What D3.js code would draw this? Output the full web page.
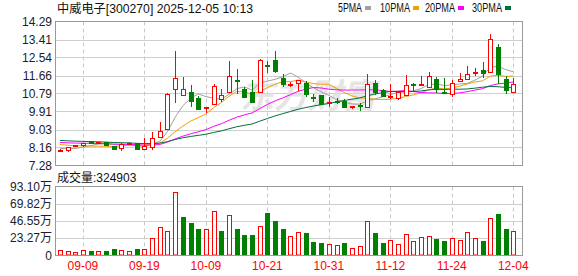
<!DOCTYPE html>
<html>

<head>
  <meta charset="UTF-8" />
  <script src="https://d3js.org/d3.v7.min.js"></script>
  <style>
    body { margin: 0; background: #fff; }
    text { font-family: "Liberation Sans", Arial, "Noto Sans CJK SC", sans-serif; }
  </style>
</head>

<body>
  <script>

    // trading days shown
    var dates = [
      "09-04", "09-05", "09-08", "09-09", "09-10", "09-11", "09-12", "09-15", "09-16", "09-17",
      "09-18", "09-19", "09-22", "09-23", "09-24", "09-25", "09-26", "09-29", "09-30", "10-09",
      "10-10", "10-13", "10-14", "10-15", "10-16", "10-17", "10-20", "10-21", "10-22", "10-23",
      "10-24", "10-27", "10-28", "10-29", "10-30", "10-31", "11-03", "11-04", "11-05", "11-06",
      "11-07", "11-10", "11-11", "11-12", "11-13", "11-14", "11-17", "11-18", "11-19", "11-20",
      "11-21", "11-24", "11-25", "11-26", "11-27", "11-28", "12-01", "12-02", "12-03", "12-04"
    ];

    var opens = [8.00, 8.05, 8.21, 8.30, 8.45, 8.38, 8.40, 8.23, 8.12, 8.35,
      8.36, 8.09, 8.17, 8.66, 9.05, 11.01, 10.72, 10.88, 10.59, 10.10,
      10.28, 10.53, 10.88, 11.45, 11.01, 10.88, 10.85, 12.17, 12.42, 11.55,
      11.24, 11.30, 11.31, 10.62, 10.69, 10.35, 10.43, 10.44, 10.13, 10.22,
      10.15, 11.31, 10.96, 10.64, 10.56, 10.72, 11.26, 11.19, 11.10, 11.50,
      10.85, 10.77, 11.38, 11.47, 11.76, 11.91, 11.83, 13.06, 11.50, 10.85];

    var highs = [8.06, 8.20, 8.29, 8.39, 8.47, 8.44, 8.42, 8.25, 8.36, 8.40,
      8.38, 8.63, 8.93, 9.42, 10.80, 12.83, 11.61, 11.21, 10.68, 10.14,
      11.26, 11.01, 12.39, 11.99, 11.10, 11.42, 12.45, 12.39, 12.87, 11.75,
      11.35, 11.44, 11.38, 10.75, 10.72, 10.61, 10.55, 10.50, 10.18, 10.30,
      11.75, 11.46, 11.00, 11.23, 10.88, 11.70, 11.28, 11.66, 11.85, 11.61,
      11.55, 11.46, 11.79, 12.10, 12.03, 12.33, 13.69, 13.20, 11.66, 11.55];

    var lows = [7.96, 7.93, 8.18, 8.18, 8.35, 8.36, 8.24, 8.05, 7.98, 8.32,
      8.06, 8.06, 8.04, 8.60, 9.00, 10.31, 10.70, 10.15, 9.99, 9.84,
      10.25, 10.36, 10.85, 10.77, 10.55, 10.33, 10.80, 11.79, 11.79, 11.10,
      11.10, 10.93, 10.61, 10.36, 10.26, 10.12, 10.29, 10.12, 10.04, 9.92,
      10.10, 10.69, 10.60, 10.53, 10.48, 10.70, 10.93, 11.15, 11.05, 10.80,
      10.75, 10.61, 11.36, 11.42, 11.66, 11.55, 11.78, 11.26, 10.77, 10.83];

    var closes = [8.02, 8.20, 8.26, 8.39, 8.37, 8.40, 8.26, 8.09, 8.33, 8.37,
      8.08, 8.22, 8.62, 8.98, 10.77, 11.55, 11.01, 10.44, 10.05, 10.13,
      11.16, 10.72, 11.65, 11.40, 10.61, 10.36, 12.42, 12.13, 11.86, 11.23,
      11.27, 11.42, 10.77, 10.59, 10.29, 10.38, 10.40, 10.15, 10.17, 10.20,
      11.23, 10.85, 10.66, 10.68, 10.85, 11.18, 11.20, 11.23, 11.63, 11.01,
      10.81, 11.31, 11.50, 11.75, 11.81, 11.78, 13.45, 11.75, 10.96, 11.26];

    // volume, in 万 (10k)
    var volumes = [7.7, 6.3, 5.0, 7.7, 5.4, 6.7, 5.4, 8.1, 7.7, 5.4,
      8.1, 8.1, 23.9, 38.7, 33.3, 85.9, 52.6, 44.5, 35.1, 35.1,
      60.3, 33.7, 55.3, 35.1, 27.0, 28.3, 39.9, 56.7, 45.9, 35.1,
      26.6, 32.0, 31.0, 18.0, 16.2, 15.7, 14.4, 17.5, 10.3, 13.0,
      46.8, 29.7, 17.5, 21.2, 15.7, 29.2, 18.9, 25.2, 26.6, 22.9,
      20.2, 23.9, 21.2, 32.0, 23.9, 20.2, 50.9, 55.8, 35.1, 32.4903];

    // closes before 09-04 (not drawn), estimated from where the MA lines start
    var priorCloses = [8.80, 8.75, 8.70, 8.72, 8.68, 8.66, 8.70, 8.65, 8.62, 8.72,
      8.55, 8.50, 8.52, 8.48, 8.50, 8.45, 8.52, 8.50, 8.48, 8.50,
      8.55, 8.50, 8.45, 8.48, 8.42, 8.35, 8.18, 8.06, 8.00];

    var priceTicks = [7.28, 8.16, 9.03, 9.91, 10.79, 11.66, 12.54, 13.41, 14.29];
    var volTicks = [0, 23.27, 46.55, 69.82, 93.10];
    var dateTicks = ["09-09", "09-19", "10-09", "10-21", "10-31", "11-12", "11-24", "12-04"];

    var maPeriods = [5, 10, 20, 30];
    var maNames = ["5PMA", "10PMA", "20PMA", "30PMA"];
    var maColors = ["#a0a0a0", "#f0a000", "#ff00ff", "#00703a"];

    var title = "中威电子[300270] 2025-12-05 10:13";

    var UP = "#ff0000", DOWN = "#008000";

    var width = 578, height = 276;
    var left = 55.5, right = 522.5;
    var pTop = 21.5, pBottom = 165.5;
    var vTop = 186.5, vBottom = 255.5;

    var svg = d3.select("body").append("svg")
      .attr("width", width)
      .attr("height", height);

    // scales
    var x = d3.scalePoint()
      .domain(dates)
      .range([59.9, 513.3]);

    var y = d3.scaleLinear()
      .domain([7.28, 14.29])
      .range([pBottom, pTop]);

    var yv = d3.scaleLinear()
      .domain([0, 93.10])
      .range([vBottom, vTop]);

    // ****************** grid ***************************

    var grid = svg.append("g");

    grid.selectAll("line.hp")
      .data(priceTicks.slice(1, -1))
      .enter().append("line")
      .attr("x1", left).attr("x2", right)
      .attr("y1", function (d) { return Math.round(y(d)) + 0.5; })
      .attr("y2", function (d) { return Math.round(y(d)) + 0.5; })
      .attr("stroke", "#cfcfcf");

    grid.selectAll("line.hv")
      .data(volTicks.slice(1, -1))
      .enter().append("line")
      .attr("x1", left).attr("x2", right)
      .attr("y1", function (d) { return Math.round(yv(d)) + 0.5; })
      .attr("y2", function (d) { return Math.round(yv(d)) + 0.5; })
      .attr("stroke", "#cfcfcf");

    [[pTop, pBottom], [vTop, vBottom]].forEach(function (r) {
      grid.selectAll(null)
        .data(dateTicks)
        .enter().append("line")
        .attr("x1", function (d) { return Math.round(x(d)) + 0.5; })
        .attr("x2", function (d) { return Math.round(x(d)) + 0.5; })
        .attr("y1", r[0]).attr("y2", r[1])
        .attr("stroke", "#c8c8c8")
        .attr("stroke-dasharray", "4,3");
    });

    // watermark
    svg.append("text")
      .attr("x", 308)
      .attr("y", 108)
      .attr("text-anchor", "middle")
      .attr("font-size", 34)
      .attr("font-weight", "bold")
      .attr("font-style", "italic")
      .style("font-family", "'Noto Sans CJK SC', sans-serif")
      .attr("fill", "#dedede")
      .attr("fill-opacity", 0.8)
      .text("东方财富");

    // ****************** moving averages ***************************

    var allCloses = priorCloses.concat(closes);
    var offset = priorCloses.length;

    maPeriods.forEach(function (n, k) {
      var pts = closes.map(function (c, i) {
        var j = i + offset;
        return [dates[i], d3.mean(allCloses.slice(j - n + 1, j + 1))];
      });
      svg.append("path")
        .datum(pts)
        .attr("fill", "none")
        .attr("stroke", maColors[k])
        .attr("stroke-width", 1)
        .attr("d", d3.line()
          .x(function (d) { return x(d[0]); })
          .y(function (d) { return y(d[1]); }));
    });

    // ****************** candles ***************************

    var candles = dates.map(function (d, i) {
      return { date: d, o: opens[i], h: highs[i], l: lows[i], c: closes[i], v: volumes[i],
        pc: i > 0 ? closes[i - 1] : priorCloses[priorCloses.length - 1] };
    });

    var candle = svg.selectAll("g.candle")
      .data(candles)
      .enter().append("g")
      .attr("class", "candle");

    candle.append("line")
      .attr("x1", function (d) { return Math.round(x(d.date)) + 0.5; })
      .attr("x2", function (d) { return Math.round(x(d.date)) + 0.5; })
      .attr("y1", function (d) { return Math.round(y(d.h)); })
      .attr("y2", function (d) { return Math.round(y(d.l)); })
      .attr("stroke", function (d) { return d.c >= d.o ? UP : DOWN; });

    candle.append("rect")
      .attr("x", function (d) { return Math.round(x(d.date)) - 2 + 0.5; })
      .attr("width", 5 - 1)
      .attr("y", function (d) { return Math.round(y(Math.max(d.o, d.c))) + 0.5; })
      .attr("height", function (d) {
        return Math.max(1, Math.round(y(Math.min(d.o, d.c))) - Math.round(y(Math.max(d.o, d.c))));
      })
      .attr("fill", function (d) { return d.c >= d.o ? "#fff" : DOWN; })
      .attr("stroke", function (d) { return d.c >= d.o ? UP : DOWN; });

    // ****************** volume ***************************

    svg.selectAll("rect.vol")
      .data(candles)
      .enter().append("rect")
      .attr("class", "vol")
      .attr("x", function (d) { return Math.round(x(d.date)) - 2 + 0.5; })
      .attr("width", 4)
      .attr("y", function (d) { return Math.round(yv(d.v)) + 0.5; })
      .attr("height", function (d) { return vBottom - 0.5 - (Math.round(yv(d.v)) + 0.5); })
      .attr("fill", function (d) { return d.c >= d.pc ? "#fff" : DOWN; })
      .attr("stroke", function (d) { return d.c >= d.pc ? UP : DOWN; });

    // ****************** frames & axes ***************************

    [[pTop, pBottom], [vTop, vBottom]].forEach(function (r) {
      svg.append("rect")
        .attr("x", left).attr("y", r[0])
        .attr("width", right - left).attr("height", r[1] - r[0])
        .attr("fill", "none")
        .attr("stroke", "#999");
    });

    svg.selectAll("text.py")
      .data(priceTicks)
      .enter().append("text")
      .attr("x", 52)
      .attr("y", function (d) { return y(d); })
      .attr("dy", "0.35em")
      .attr("text-anchor", "end")
      .attr("font-size", 12)
      .attr("fill", "#1c1c2c")
      .text(function (d) { return d.toFixed(2); });

    svg.selectAll("text.vy")
      .data(volTicks)
      .enter().append("text")
      .attr("x", 52)
      .attr("y", function (d) { return yv(d); })
      .attr("dy", "0.35em")
      .attr("text-anchor", "end")
      .attr("font-size", 12)
      .attr("fill", "#1c1c2c")
      .text(function (d) { return d === 0 ? "0" : d.toFixed(2) + "万"; });

    svg.selectAll("text.dx")
      .data(dateTicks)
      .enter().append("text")
      .attr("x", function (d) { return x(d); })
      .attr("y", 270)
      .attr("text-anchor", "middle")
      .attr("font-size", 12)
      .attr("fill", UP)
      .text(function (d) { return d; });

    // header and legend
    svg.append("text")
      .attr("x", 57).attr("y", 13)
      .attr("font-size", 12)
      .attr("textLength", 196)
      .attr("lengthAdjust", "spacingAndGlyphs")
      .attr("fill", "#111")
      .text(title);

    svg.append("text")
      .attr("x", 57).attr("y", 182)
      .attr("font-size", 12)
      .attr("fill", "#111")
      .text("成交量:" + Math.round(volumes[volumes.length - 1] * 10000));

    // legend: 6px per character, colour swatch after each name
    var legendX = [338, 380, 425, 472];
    maNames.forEach(function (name, k) {
      var w = name.length * 6;
      svg.append("text")
        .attr("x", legendX[k]).attr("y", 12)
        .attr("font-size", 12)
        .attr("textLength", w)
        .attr("lengthAdjust", "spacingAndGlyphs")
        .attr("fill", "#111")
        .text(name);
      svg.append("rect")
        .attr("x", legendX[k] + w + 3).attr("y", 6)
        .attr("width", 6).attr("height", 4)
        .attr("fill", maColors[k]);
    });

  </script>
</body>

</html>
